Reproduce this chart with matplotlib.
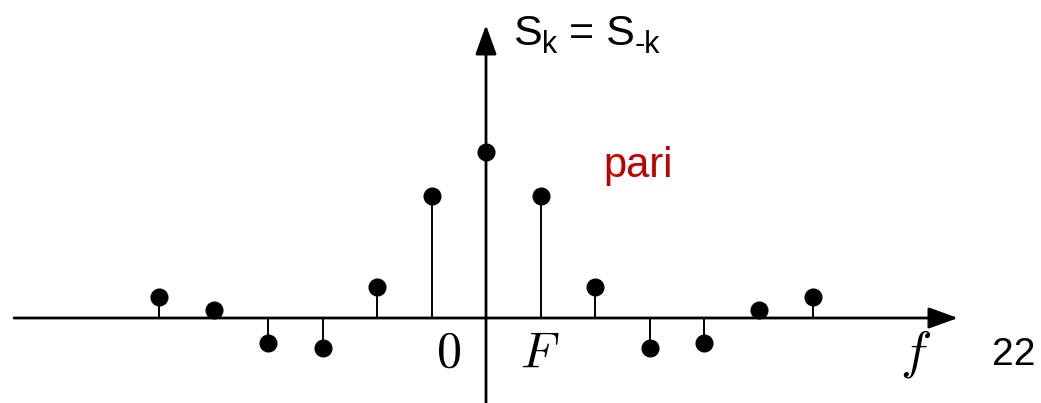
import numpy as np
import matplotlib
matplotlib.use('Agg')
import matplotlib.pyplot as plt

plt.rcParams['font.family'] = ['Liberation Sans', 'DejaVu Sans']

# harmonic index and even-symmetric spectrum values (S_k = S_-k)
k = np.arange(-6, 7)
half = [166, 122, 31, -30, -25, 8, 21]   # k = 0..6
S = np.array(half[::-1] + half[1:])

fig = plt.figure(figsize=(10.41, 4.03), dpi=100, facecolor='white')
ax = fig.add_axes([0, 0, 1, 1])
ax.set_xlim(-486 / 54.5, (1041 - 486) / 54.5)
ax.set_ylim(-85, 318)
ax.axis('off')

# stems
ml, sl, bl = ax.stem(k, S, linefmt='k-', markerfmt='ko', basefmt=' ')
plt.setp(sl, linewidth=1.4)
plt.setp(ml, markersize=12)

# axes with arrows
arr = dict(arrowstyle='-|>,head_length=18,head_width=6.5', color='black',
           lw=2.0, shrinkA=0, shrinkB=0, mutation_scale=1)
ax.annotate('', xy=(8.66, 0), xytext=(-8.66, 0), arrowprops=arr)
ax.annotate('', xy=(0, 293), xytext=(0, -85), arrowprops=arr)

# labels
ax.text(-0.69, -49, r'$\mathrm{0}$', math_fontfamily='cm', fontsize=36, ha='center', va='baseline')
ax.text(0.99, -49, r'$F$', math_fontfamily='cm', fontsize=36, ha='center', va='baseline')
ax.text(7.88, -49, r'$f$', math_fontfamily='cm', fontsize=38, ha='center', va='baseline')
ax.text(9.69, -47, '22', fontsize=28, ha='center', va='baseline')

# S_k = S_-k built from pieces (plain hyphen in subscript)
t = ax.text(0.5, 273, 'S', fontsize=31, ha='left', va='baseline')
fig.canvas.draw()
def after(txt, s, size, dy=0):
    bb = txt.get_window_extent()
    x, y = ax.transData.inverted().transform((bb.x1, 0))[0], txt.get_position()[1]
    return ax.text(x, y + dy, s, fontsize=size, ha='left', va='baseline')
t = after(t, 'k', 22, dy=-8)
fig.canvas.draw()
t = after(t, ' = S', 31, dy=8)
fig.canvas.draw()
t = after(t, '-k', 22, dy=-8)

ax.text(2.79, 141, 'pari', fontsize=30, color='#C00000', ha='center', va='baseline')

fig.savefig('out.png', dpi=100)
